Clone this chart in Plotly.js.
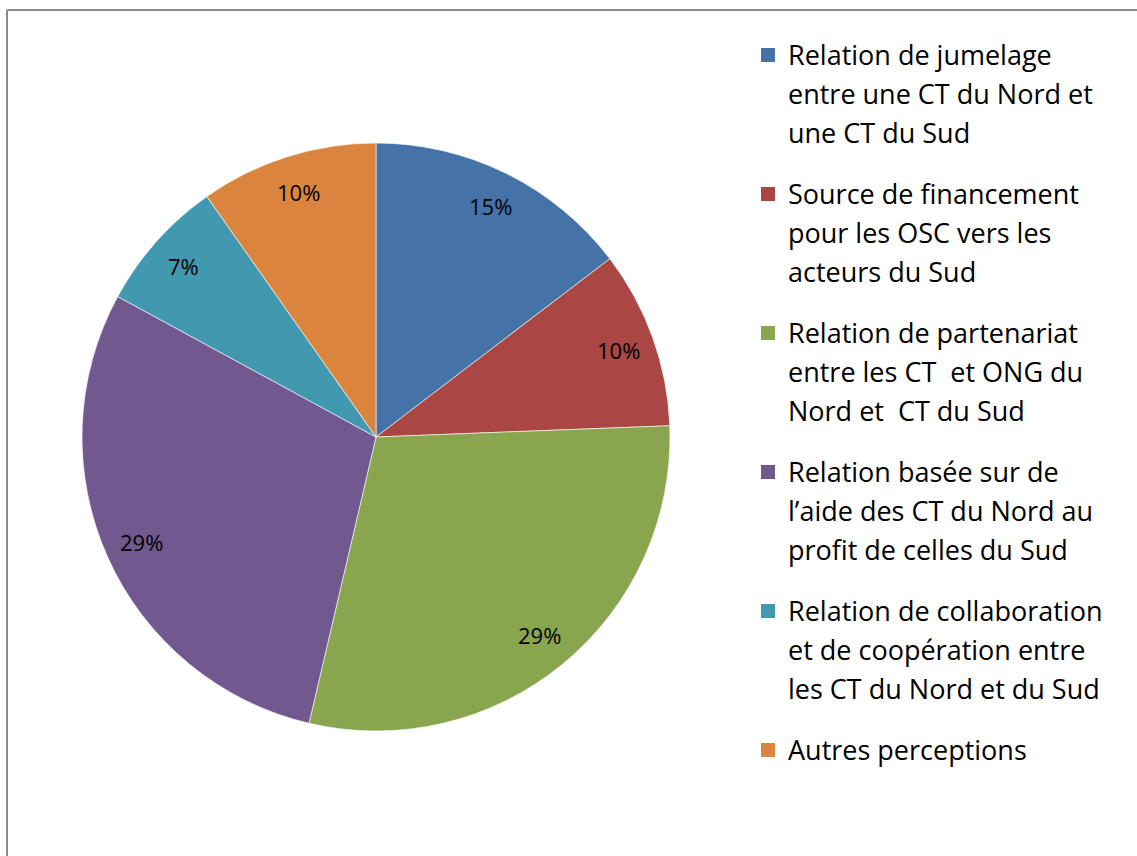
<!DOCTYPE html>
<html>
<head>
<meta charset="utf-8">
<script src="https://cdn.plot.ly/plotly-3.0.1.min.js"></script>
<style>html,body{margin:0;padding:0;background:#fff;}#chart{width:1137px;height:856px;}</style>
</head>
<body>
<div id="chart"></div>
<script>
// ---- data ----
var categories = [
  "Relation de jumelage<br>entre une CT du Nord et<br>une CT du Sud",
  "Source de financement<br>pour les OSC vers les<br>acteurs du Sud",
  "Relation de partenariat<br>entre les CT  et ONG du<br>Nord et  CT du Sud",
  "Relation basée sur de<br>l’aide des CT du Nord au<br>profit de celles du Sud",
  "Relation de collaboration<br>et de coopération entre<br>les CT du Nord et du Sud",
  "Autres perceptions"
];
var counts = [6, 4, 12, 12, 3, 4];
var colors = ["#4572A7", "#AA4643", "#89A54E", "#71588F", "#4198AF", "#DB843D"];

// ---- layout constants (pixels) ----
var W = 1137, H = 856;
var cx = 376, cy = 437, R = 294;
var FONT = "'Open Sans', 'Noto Sans', Arial, sans-serif";

var total = counts.reduce(function(a, b){ return a + b; }, 0);
var annotations = [];
var shapes = [];

// percent labels placed along the slice mid-angle
var cum = 0;
counts.forEach(function(v){
  var mid = (cum + v / 2) / total * 2 * Math.PI;
  cum += v;
  var r = 0.875 * R;
  var px = cx + r * Math.sin(mid);
  var py = cy - r * Math.cos(mid);
  annotations.push({
    xref: "paper", yref: "paper",
    x: px / W, y: 1 - py / H,
    xanchor: "center", yanchor: "middle",
    text: Math.round(v / total * 100) + "%",
    showarrow: false,
    font: {family: FONT, size: 22, color: "#000"}
  });
});

// legend drawn as squares + text lines
var legTop = 63, itemStep = 139, lineStep = 38.7, textX = 786, fs = 27;
categories.forEach(function(lab, i){
  var lines = lab.split("<br>");
  var base0 = legTop + i * itemStep;
  lines.forEach(function(line, j){
    var b = base0 + j * lineStep;
    annotations.push({
      xref: "paper", yref: "paper",
      x: textX / W, y: 1 - (b - 0.3 * fs) / H,
      xanchor: "left", yanchor: "middle",
      text: line, showarrow: false,
      font: {family: FONT, size: fs, color: "#000"}
    });
  });
  shapes.push({
    type: "rect", xref: "paper", yref: "paper",
    x0: 761 / W, x1: 775 / W,
    y0: 1 - (base0 - 1) / H, y1: 1 - (base0 - 15) / H,
    fillcolor: colors[i], line: {width: 0}
  });
});

// chart frame
shapes.push({type: "line", xref: "paper", yref: "paper",
  x0: 7 / W, x1: 1, y0: 1 - 10 / H, y1: 1 - 10 / H,
  line: {color: "#8a8a8a", width: 2}});
shapes.push({type: "line", xref: "paper", yref: "paper",
  x0: 7 / W, x1: 7 / W, y0: 1 - 10 / H, y1: 0,
  line: {color: "#8a8a8a", width: 2}});

var trace = {
  type: "pie",
  labels: categories,
  values: counts,
  sort: false,
  direction: "clockwise",
  rotation: 0,
  textinfo: "none",
  hoverinfo: "label+percent",
  marker: {colors: colors, line: {color: "rgba(255,255,255,0.6)", width: 1}},
  domain: {x: [(cx - R) / W, (cx + R) / W], y: [(H - cy - R) / H, (H - cy + R) / H]},
  showlegend: false
};

var layout = {
  width: W, height: H,
  margin: {l: 0, r: 0, t: 0, b: 0},
  paper_bgcolor: "#fff",
  showlegend: false,
  font: {family: FONT},
  annotations: annotations,
  shapes: shapes
};

Plotly.newPlot("chart", [trace], layout, {displayModeBar: false, staticPlot: true});
</script>
</body>
</html>
